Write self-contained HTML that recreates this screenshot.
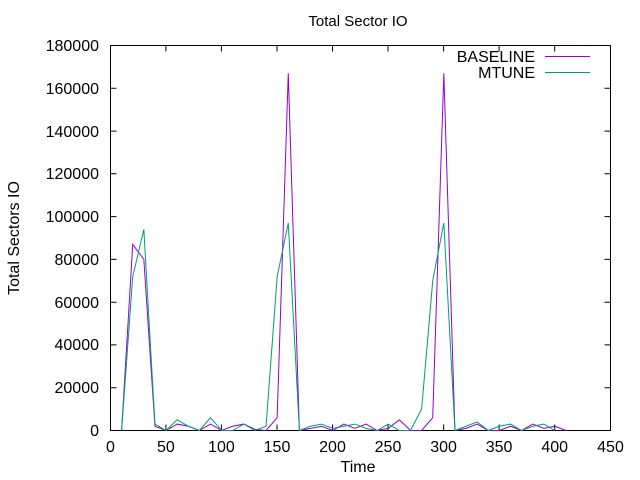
<!DOCTYPE html>
<html><head><meta charset="utf-8"><style>
html,body{margin:0;padding:0;background:#fff}
svg{display:block}
text{font-family:"Liberation Sans","DejaVu Sans",sans-serif;font-size:16px;fill:#000}
</style></head><body>
<svg width="640" height="480" viewBox="0 0 640 480">
<rect width="640" height="480" fill="#fff"/>
<g stroke="#000" stroke-width="1" fill="none">
<rect x="110.5" y="45.5" width="500" height="385"/>
<!-- y ticks -->
<path d="M110.5 430.5h6M110.5 387.7h6M110.5 344.9h6M110.5 302.2h6M110.5 259.4h6M110.5 216.6h6M110.5 173.8h6M110.5 131.1h6M110.5 88.3h6
M610.5 387.7h-6M610.5 344.9h-6M610.5 302.2h-6M610.5 259.4h-6M610.5 216.6h-6M610.5 173.8h-6M610.5 131.1h-6M610.5 88.3h-6"/>
<path d="M165.9 430.5v-6M221.4 430.5v-6M277 430.5v-6M332.5 430.5v-6M388 430.5v-6M443.6 430.5v-6M499.1 430.5v-6M554.7 430.5v-6
M165.9 45.5v6M221.4 45.5v6M277 45.5v6M332.5 45.5v6M388 45.5v6M443.6 45.5v6M499.1 45.5v6M554.7 45.5v6"/>
</g>
<g text-anchor="end">
<text x="99" y="436">0</text>
<text x="99" y="393">20000</text>
<text x="99" y="350">40000</text>
<text x="99" y="308">60000</text>
<text x="99" y="265">80000</text>
<text x="99" y="222">100000</text>
<text x="99" y="179">120000</text>
<text x="99" y="137">140000</text>
<text x="99" y="94">160000</text>
<text x="99" y="51">180000</text>
</g>
<g text-anchor="middle">
<text x="110.5" y="452">0</text>
<text x="165.9" y="452">50</text>
<text x="221.4" y="452">100</text>
<text x="277" y="452">150</text>
<text x="332.5" y="452">200</text>
<text x="388" y="452">250</text>
<text x="443.6" y="452">300</text>
<text x="499.1" y="452">350</text>
<text x="554.7" y="452">400</text>
<text x="610.5" y="452">450</text>
<text x="358" y="472">Time</text>
<text x="358" y="26" style="font-size:15px">Total Sector IO</text>
<text transform="translate(19 238) rotate(-90)">Total Sectors IO</text>
</g>
<g text-anchor="end">
<text x="535" y="62">BASELINE</text>
<text x="535" y="78">MTUNE</text>
</g>
<path d="M545 56.5h45" stroke="#9400d3" stroke-width="1"/>
<path d="M545 72.5h45" stroke="#009e73" stroke-width="1"/>
<g transform="translate(110.5 430.5) scale(1.1111 -0.0021389)" fill="none" stroke-width="1">
<polyline vector-effect="non-scaling-stroke" stroke="#9400d3" points="10,0 20,87000 30,80000 40,2000 50,0 60,3000 70,2000 80,0 90,3000 100,0 110,2000 120,3000 130,500 140,0 150,6000 160,167000 170,0 180,1000 190,2000 200,0 210,3000 220,1000 230,3000 240,0 250,1000 260,5000 270,0 280,0 290,6000 300,167000 310,0 320,1000 330,3000 340,0 350,0 360,2000 370,0 380,3000 390,1000 400,2000 410,0"/>
<polyline vector-effect="non-scaling-stroke" stroke="#009e73" points="10,0 20,72000 30,94000 40,3000 50,0 60,5000 70,2000 80,0 90,6000 100,0 110,0 120,3000 130,0 140,2000 150,72000 160,97000 170,0 180,2000 190,3000 200,1000 210,2000 220,3000 230,1000 240,0 250,3000 260,0 270,0 280,10000 290,70000 300,97000 310,0 320,2000 330,4000 340,0 350,2000 360,3000 370,0 380,2000 390,3000 400,0"/>
</g>
</svg>
</body></html>
